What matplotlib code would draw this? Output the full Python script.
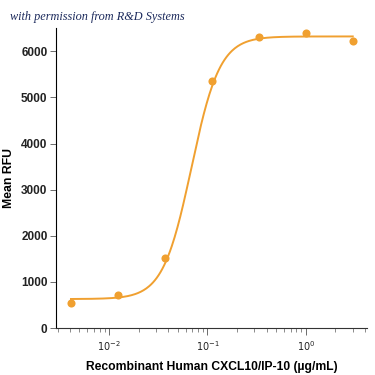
import numpy as np
import matplotlib
matplotlib.use("Agg")
import matplotlib.pyplot as plt
from matplotlib import font_manager
from matplotlib.ticker import LogLocator, NullFormatter

# data
conc = [0.0041, 0.0123, 0.037, 0.111, 0.333, 1.0, 3.0]   # ug/mL
rfu = [540, 715, 1515, 5350, 6300, 6390, 6215]
yticks = [0, 1000, 2000, 3000, 4000, 5000, 6000]

# 4PL fit parameters (estimated from the drawn curve)
bottom = 630
top = 6320
ec50 = 0.0687
hill = 3.0

orange = "#F0A030"

names = set(f.name for f in font_manager.fontManager.ttflist)
print(sorted(n for n in names if "Narrow" in n or "Condensed" in n))
label_font = "Liberation Sans" if "Liberation Sans" in names else "DejaVu Sans"

fig = plt.figure(figsize=(3.75, 3.75), dpi=100)
ax = fig.add_axes([0.149, 0.125, 0.83, 0.80])

xs = np.logspace(np.log10(conc[0]), np.log10(conc[-1]), 300)
ys = bottom + (top - bottom) / (1 + (ec50 / xs) ** hill)
ax.plot(xs, ys, color=orange, lw=1.4, zorder=2)
ax.scatter(conc, rfu, s=34, color=orange, zorder=3, linewidths=0)

ax.set_xscale("log")
ax.set_xlim(0.00288, 4.2)
ax.set_ylim(0, 6500)
ax.set_yticks(yticks)
ax.set_xticks([0.01, 0.1, 1])
ax.set_xticklabels([r"$10^{-2}$", r"$10^{-1}$", r"$10^{0}$"])
ax.xaxis.set_minor_locator(LogLocator(base=10, subs=np.arange(2, 10)))
ax.xaxis.set_minor_formatter(NullFormatter())

for s in ["top", "right"]:
    ax.spines[s].set_visible(False)
ax.spines["left"].set_color("black")
ax.spines["bottom"].set_color("#333333")

ax.tick_params(axis="y", length=4, width=0.6, color="#555555", labelsize=8.5, pad=2)
ax.tick_params(axis="x", which="major", length=5, width=0.6, color="#555555", labelsize=7, pad=3)
ax.tick_params(axis="x", which="minor", length=3, width=0.6, color="#777777")
for lab in ax.get_yticklabels():
    lab.set_fontfamily(label_font)
    lab.set_fontweight("bold")
    lab.set_color("#222222")
for lab in ax.get_xticklabels():
    lab.set_color("#222222")

yl = ax.set_ylabel("Mean RFU", fontsize=9, fontweight="bold", family=label_font, labelpad=4)
xl = ax.set_xlabel("Recombinant Human CXCL10/IP-10 (\u00b5g/mL)", fontsize=10,
                   fontweight="bold", family=label_font, labelpad=6)

# shrink the labels to the widths seen in the reference
fig.canvas.draw()
r = fig.canvas.get_renderer()
w = xl.get_window_extent(r).width
xl.set_fontsize(10 * 250 / w)
h = yl.get_window_extent(r).height
yl.set_fontsize(9 * 60 / h)

fig.text(0.027, 0.955, "with permission from R&D Systems", fontsize=8.8, style="italic",
         family=["Liberation Serif", "DejaVu Serif"], color="#1c2a5c", ha="left", va="center")

fig.savefig("out.png", dpi=100)
